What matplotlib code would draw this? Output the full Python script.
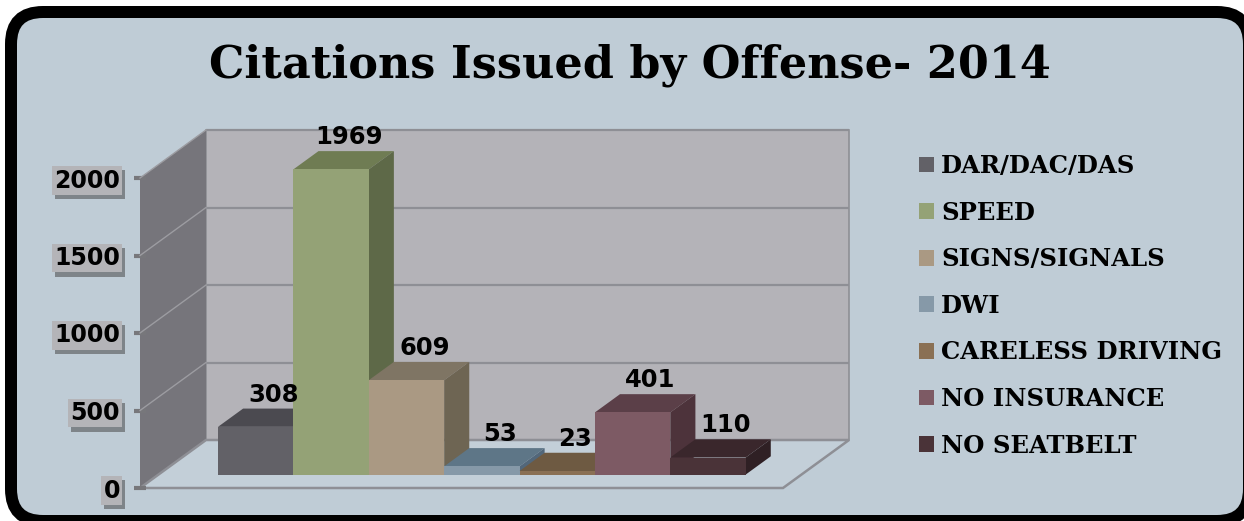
import matplotlib
matplotlib.use("Agg")
import matplotlib.pyplot as plt
from matplotlib.patches import Polygon, Patch, FancyBboxPatch
from matplotlib.transforms import IdentityTransform
import matplotlib.patheffects as pe

# ---- data -------------------------------------------------------------
title = "Citations Issued by Offense- 2014"
offenses = ["DAR/DAC/DAS", "SPEED", "SIGNS/SIGNALS", "DWI",
            "CARELESS DRIVING", "NO INSURANCE", "NO SEATBELT"]
citations = [308, 1969, 609, 53, 23, 401, 110]
y_ticks = [0, 500, 1000, 1500, 2000]
y_max = 2000

# ---- colours ----------------------------------------------------------
front_colors = ["#626167", "#94A276", "#AA9983", "#8699A8",
                "#8A7054", "#7D5A64", "#4A3338"]
top_colors = ["#4B4A50", "#6F7C53", "#7F7564", "#5E7687",
              "#6E5A42", "#5B3F48", "#3A272C"]
side_colors = ["#55545A", "#5E6948", "#6E6553", "#52677A",
               "#5E4C37", "#4D333B", "#2F2024"]
BG = "#BFCCD6"
FLOOR = "#C3CFD8"
BACK_WALL = "#B4B3B8"
SIDE_WALL = "#76757B"
EDGE = "#8E8F95"

W, H = 1244, 521
fig = plt.figure(figsize=(W / 100, H / 100), dpi=100, facecolor="white")

# rounded black frame around the whole chart
frame = FancyBboxPatch((11, 0), 1238, 509,
                       boxstyle="round,pad=0,rounding_size=32",
                       transform=IdentityTransform(),
                       facecolor=BG, edgecolor="black",
                       linewidth=12 * 72 / 100, zorder=0)
fig.add_artist(frame)

fig.text(630 / W, 1 - 78 / H, title, ha="center", va="baseline",
         fontsize=32, fontweight="bold", family="DejaVu Serif")

# front plane of the 3-D box
ax = fig.add_axes([140 / W, 33 / H, 643 / W, 310 / H])
x0, x1 = -0.79, 7.74
ax.set_xlim(x0, x1)
ax.set_ylim(0, y_max)
ax.patch.set_visible(False)
for s in ax.spines.values():
    s.set_visible(False)

# oblique depth offset (full depth) in data units
px_x = 643 / (x1 - x0)
px_y = 310 / y_max
DX = 66 / px_x
DY = 48 / px_y


def at(x, y, d):
    return (x + d * DX, y + d * DY)


def face(points, color, z, ec="none", lw=0):
    ax.add_patch(Polygon(points, closed=True, facecolor=color, edgecolor=ec,
                         linewidth=lw, zorder=z, clip_on=False))


# walls and floor
face([at(x0, 0, 1), at(x1, 0, 1), at(x1, y_max, 1), at(x0, y_max, 1)],
     BACK_WALL, 1, EDGE, 1.2)
face([at(x0, 0, 0), at(x0, 0, 1), at(x0, y_max, 1), at(x0, y_max, 0)],
     SIDE_WALL, 1)
face([at(x0, 0, 0), at(x1, 0, 0), at(x1, 0, 1), at(x0, 0, 1)],
     FLOOR, 1, EDGE, 1.8)

for v in y_ticks[1:]:
    ax.plot([x0 + DX, x1 + DX], [v + DY, v + DY], color=EDGE, lw=1.6,
            zorder=2, clip_on=False, solid_capstyle="butt")
    ax.plot([x0, x0 + DX], [v, v + DY], color="#9C9CA1", lw=1.0,
            zorder=2, clip_on=False)

# bars: front face via ax.bar, top and right side as parallelograms
f, b = 0.28, 0.66
for i, v in enumerate(citations):
    z = 5 + i
    ax.bar(i + 0.5 + f * DX, v, width=1.0, bottom=f * DY,
           color=front_colors[i], zorder=z + 0.2, clip_on=False)
    face([at(i, v, f), at(i + 1, v, f), at(i + 1, v, b), at(i, v, b)],
         top_colors[i], z)
    face([at(i + 1, 0, f), at(i + 1, 0, b), at(i + 1, v, b), at(i + 1, v, f)],
         side_colors[i], z)
    ax.annotate(str(v), xy=(i + 0.5 + 0.55 * DX, v + b * DY),
                xytext=(0, 5), textcoords="offset points",
                ha="center", va="baseline", fontsize=17.5, fontweight="bold",
                family="DejaVu Sans", zorder=20, annotation_clip=False)

# value axis
ax.set_xticks([])
ax.set_yticks(y_ticks)
ax.set_yticklabels([str(t) for t in y_ticks], fontsize=17,
                   fontweight="bold", family="DejaVu Sans")
ax.tick_params(axis="y", direction="inout", length=8, width=3,
               color="#77777B", pad=10.4)
for lbl in ax.get_yticklabels():
    lbl.set_bbox(dict(boxstyle="square,pad=0.1", facecolor="#B4B4B8",
                      edgecolor="none"))
    lbl.get_bbox_patch().set_path_effects([
        pe.SimplePatchShadow(offset=(2, -3), shadow_rgbFace="#4A4A4A",
                             alpha=0.55),
        pe.Normal()])

# legend
handles = [Patch(facecolor=c, edgecolor="none") for c in front_colors]
fig.legend(handles, offenses, loc="upper left",
           bbox_to_anchor=(919 / W, 1 - 154 / H), frameon=False,
           prop=dict(family="DejaVu Serif", weight="bold", size=17.5),
           handlelength=0.62, handleheight=0.62, handletextpad=0.3,
           labelspacing=0.93, borderpad=0, borderaxespad=0)

fig.savefig("out.png", dpi=100, facecolor="white")
